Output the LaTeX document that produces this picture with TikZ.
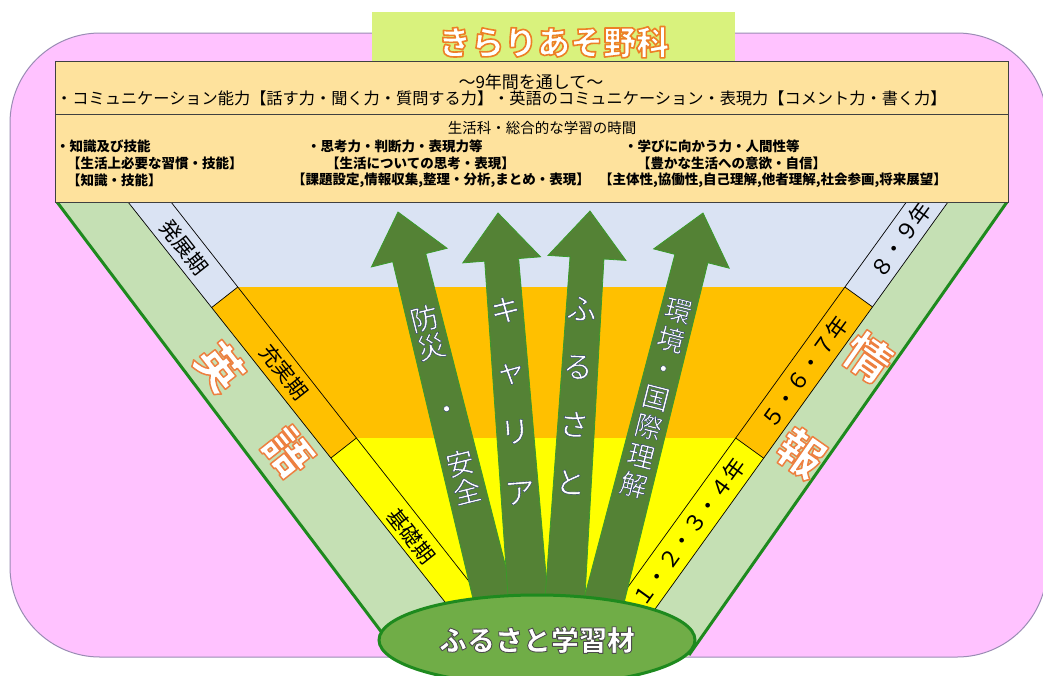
\documentclass[tikz,border=0pt]{standalone}
\usepackage{fontspec}
\setmainfont{Noto Sans CJK JP}
\usetikzlibrary{calc,shapes.geometric}
\definecolor{pinkbg}{HTML}{FFC2FF}
\definecolor{pinkedge}{HTML}{9A8CB4}
\definecolor{titlegreen}{HTML}{D9F27D}
\definecolor{boxtan}{HTML}{FEE29D}
\definecolor{bandblue}{HTML}{DAE3F3}
\definecolor{bandorange}{HTML}{FFC000}
\definecolor{bandyellow}{HTML}{FFFF00}
\definecolor{bandgreen}{HTML}{C5E0B4}
\definecolor{edgegreen}{HTML}{1E8A1E}
\definecolor{arrowgreen}{HTML}{548235}
\definecolor{arrowedge}{HTML}{3A9A2A}
\definecolor{ellgreen}{HTML}{70AD47}
% outlined text: #1 fill rgb, #2 stroke rgb, #3 stroke width
\newcommand\outlbegin[3]{\special{pdf:literal direct q #1 rg #2 RG 2 Tr #3 w 1 j}}
\newcommand\outlend{\special{pdf:literal direct Q}}
\newcommand\fanarrow[3]{%
  \coordinate (#3) at ($(#2)!47pt!(#1)$);
  \filldraw[arrowbody] ($(#1)!20pt!90:(#2)$) -- ($(#3)!17pt!90:(#2)$) -- ($(#3)!39pt!90:(#2)$) -- (#2)
    -- ($(#3)!39pt!-90:(#2)$) -- ($(#3)!17pt!-90:(#2)$) -- ($(#1)!20pt!-90:(#2)$) -- cycle;}
\tikzset{
  stripline/.style={draw=black, line width=0.7pt},
  edgeline/.style={draw=edgegreen, line width=3pt},
  arrowbody/.style={fill=arrowgreen, draw=arrowedge, line width=0.8pt},
  striplabel/.style={font=\fontsize{21}{21}\selectfont, inner sep=0pt},
  yearlabel/.style={font=\fontsize{22}{22}\selectfont, inner sep=0pt, rotate=54.2},
  bigchar/.style={font=\fontsize{46}{46}\selectfont\bfseries, inner sep=0pt,
    execute at begin node={\outlbegin{1 1 1}{0.93 0.5 0.25}{1.5}}, execute at end node={\outlend}},
  arrowtext/.style={align=center, inner sep=0pt,
    execute at begin node={\outlbegin{1 1 1}{0.15 0.22 0.4}{0.4}}, execute at end node={\outlend}},
  boxtext/.style={anchor=west, inner sep=0pt},
  coltext/.style={anchor=west, inner sep=0pt, font=\fontsize{13.5}{14}\selectfont\bfseries},
}
\begin{document}
\begin{tikzpicture}[x=1pt,y=-1pt]
\useasboundingbox (0,0) rectangle (1043,675);
\fill[white] (0,0) rectangle (1043,675);
% pink background
\draw[fill=pinkbg, draw=pinkedge, line width=1pt, rounded corners=90pt] (10,33) rectangle (1047,657);
% title
\node[fill=titlegreen, minimum width=363pt, minimum height=60pt, anchor=north west, inner sep=0pt,
  font=\fontsize{33}{33}\selectfont\bfseries,
  execute at begin node={\outlbegin{1 1 1}{0.93 0.5 0.15}{1.6}}, execute at end node={\outlend}]
  (title) at (372,12) {きらりあそ野科};
% fan: green band
\fill[bandgreen] (57,202) -- (1007,202) -- (688,657) -- (401,657) -- cycle;
% central bands
\begin{scope}
  \clip (171,202) -- (906.4,202) -- (589.6,640) -- (515.1,640) -- cycle;
  \fill[bandblue] (150,202) rectangle (950,287);
  \fill[bandorange] (150,287) rectangle (950,438);
  \fill[bandyellow] (150,438) rectangle (950,660);
\end{scope}
% left strip
\fill[bandblue] (128,202) -- (171,202) -- (237.8,287) -- (211.7,307.5) -- cycle;
\fill[bandorange] (211.7,307.5) -- (237.8,287) -- (356.4,438) -- (330.9,458) -- cycle;
\fill[bandyellow] (330.9,458) -- (356.4,438) -- (515.1,640) -- (475.1,640) -- cycle;
\draw[stripline] (128,202) -- (475.1,640);
\draw[stripline] (171,202) -- (515.1,640);
\draw[stripline] (211.7,307.5) -- (237.8,287);
\draw[stripline] (330.9,458) -- (356.4,438);
% right strip
\fill[bandblue] (906.4,202) -- (948,202) -- (872.5,306.9) -- (844.9,287) -- cycle;
\fill[bandorange] (844.9,287) -- (872.5,306.9) -- (763.7,458.2) -- (735.7,438) -- cycle;
\fill[bandyellow] (735.7,438) -- (763.7,458.2) -- (632.8,640) -- (589.6,640) -- cycle;
\draw[stripline] (948,202) -- (632.8,640);
\draw[stripline] (906.4,202) -- (589.6,640);
\draw[stripline] (844.9,287) -- (872.5,306.9);
\draw[stripline] (735.7,438) -- (763.7,458.2);
% green edges
\draw[edgeline] (57,202) -- (395,650);
\draw[edgeline] (1007,202) -- (689,655);
% strip labels
\node[striplabel, rotate=-51.7] (l1) at (184,247) {発展期};
\node[striplabel, rotate=-51.7] (l2) at (284,372) {充実期};
\node[striplabel, rotate=-51.7] (l3) at (411,536) {基礎期};
\node[yearlabel] (r1) at (901,240) {８・９年};
\node[yearlabel] (r2) at (805,372) {５・６・７年};
\node[yearlabel] (r3) at (689,532) {１・２・３・４年};
% big characters
\node[bigchar, rotate=-51.7] (e1) at (220,367) {英};
\node[bigchar, rotate=-51.7] (e2) at (288,452) {語};
\node[bigchar, rotate=-35] (j1) at (868,357) {情};
\node[bigchar, rotate=-35] (j2) at (801,453) {報};
% arrows
\coordinate (b1) at (496.2,610); \coordinate (t1) at (398,212);
\coordinate (b2) at (529,610);   \coordinate (t2) at (498,213);
\coordinate (b3) at (564.2,610); \coordinate (t3) at (590,211);
\coordinate (b4) at (601.7,610); \coordinate (t4) at (703,213);
\fanarrow{b1}{t1}{h1}
\fanarrow{b2}{t2}{h2}
\fanarrow{b3}{t3}{h3}
\fanarrow{b4}{t4}{h4}
\node[arrowtext, rotate=13.9, font=\fontsize{28}{29}\selectfont] (a1) at (445.5,404.5) {防\\災\\[35pt]・\\[27pt]安\\全};
\node[arrowtext, rotate=4.5, font=\fontsize{30}{61}\selectfont] (a2) at (512.7,401) {キ\\ャ\\リ\\ア};
\node[arrowtext, rotate=-3.7, font=\fontsize{30}{58}\selectfont] (a3) at (576,395.5) {ふ\\る\\さ\\と};
\node[arrowtext, rotate=-14.3, font=\fontsize{27}{30}\selectfont] (a4) at (655.8,398) {環\\境\\・\\国\\際\\理\\解};
% top box
\draw[fill=boxtan, draw=black!75, line width=0.8pt] (55,61) rectangle (1008,202);
\draw[draw=black!75, line width=0.8pt] (55,114) -- (1008,114);
\node[inner sep=0pt, font=\fontsize{17}{17}\selectfont] (h1t) at (531,81.7) {～9年間を通して～};
\node[boxtext, font=\fontsize{16.2}{17}\selectfont] (h2t) at (56,98.3) {・コミュニケーション能力【話す力・聞く力・質問する力】・英語のコミュニケーション・表現力【コメント力・書く力】};
\node[inner sep=0pt, font=\fontsize{14.5}{15}\selectfont] (s0) at (542,127.5) {生活科・総合的な学習の時間};
\node[coltext] (c11) at (56,146) {・知識及び技能};
\node[coltext] (c12) at (67,163.3) {【生活上必要な習慣・技能】};
\node[coltext] (c13) at (67,180) {【知識・技能】};
\node[coltext] (c21) at (307,146) {・思考力・判断力・表現力等};
\node[coltext] (c22) at (326,163.3) {【生活についての思考・表現】};
\node[coltext] (c23) at (292,180) {【課題設定,情報収集,整理・分析,まとめ・表現】};
\node[coltext] (c31) at (624,146) {・学びに向かう力・人間性等};
\node[coltext] (c32) at (637,163.3) {【豊かな生活への意欲・自信】};
\node[coltext] (c33) at (599,180) {【主体性,協働性,自己理解,他者理解,社会参画,将来展望】};
% base ellipse
\node[ellipse, minimum width=316pt, minimum height=90pt, inner sep=0pt, fill=ellgreen, draw=edgegreen,
  line width=3pt, font=\fontsize{28}{28}\selectfont\bfseries,
  execute at begin node={\outlbegin{1 1 1}{0.3 0.3 0.3}{0.9}}, execute at end node={\outlend}]
  (base) at (537,640) {ふるさと学習材};
\end{tikzpicture}
\end{document}
